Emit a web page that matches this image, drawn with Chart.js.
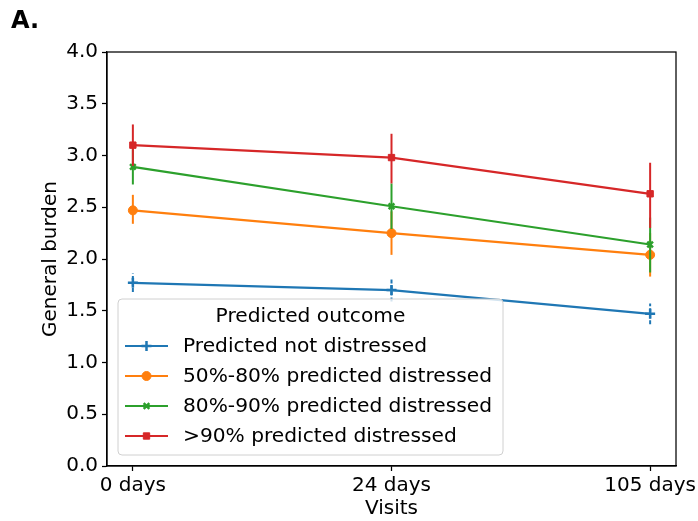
<!DOCTYPE html>
<html>
<head>
<meta charset="utf-8">
<script src="https://cdn.jsdelivr.net/npm/chart.js@4/dist/chart.umd.min.js"></script>
<style>
  body { margin: 0; background: #fff; }
  #wrap { width: 698px; height: 521px; }
</style>
</head>
<body>
<div id="wrap"><canvas id="myChart" width="698" height="521"></canvas></div>
<script>
// data
const visits = ['0 days', '24 days', '105 days'];
const visitPos = [0, 1, 2];
const groups = ['Predicted not distressed', '50%-80% predicted distressed', '80%-90% predicted distressed', '>90% predicted distressed'];

const notDistressed = [1.77, 1.70, 1.47];
const notDistressedLo = [1.68, 1.59, 1.37];
const notDistressedHi = [1.86, 1.82, 1.57];

const pct50to80 = [2.47, 2.25, 2.04];
const pct50to80Lo = [2.34, 2.04, 1.83];
const pct50to80Hi = [2.62, 2.46, 2.25];

const pct80to90 = [2.89, 2.51, 2.14];
const pct80to90Lo = [2.72, 2.29, 1.87];
const pct80to90Hi = [3.06, 2.73, 2.40];

const pctOver90 = [3.10, 2.98, 2.63];
const pctOver90Lo = [2.90, 2.73, 2.30];
const pctOver90Hi = [3.30, 3.21, 2.93];

const yTicks = [0, 0.5, 1, 1.5, 2, 2.5, 3, 3.5, 4];

const means = [notDistressed, pct50to80, pct80to90, pctOver90];
const lows = [notDistressedLo, pct50to80Lo, pct80to90Lo, pctOver90Lo];
const highs = [notDistressedHi, pct50to80Hi, pct80to90Hi, pctOver90Hi];

const colors = ['#1f77b4', '#ff7f0e', '#2ca02c', '#d62728'];
const markers = [
    { pointStyle: 'cross', radius: 5, borderWidth: 2.5 },
    { pointStyle: 'circle', radius: 4.5, borderWidth: 1 },
    { pointStyle: 'crossRot', radius: 4, borderWidth: 2.5 },
    { pointStyle: 'rect', radius: 4.5, borderWidth: 1 }
];
const errDash = [[4, 2], [], [], []];
const FONT = 'DejaVu Sans';

function drawMarker(ctx, i, x, y) {
    ctx.save();
    ctx.fillStyle = colors[i];
    ctx.strokeStyle = colors[i];
    ctx.lineWidth = markers[i].borderWidth;
    ctx.setLineDash([]);
    Chart.helpers.drawPoint(ctx, {
        pointStyle: markers[i].pointStyle,
        radius: markers[i].radius,
        rotation: 0,
        borderWidth: markers[i].borderWidth
    }, x, y);
    ctx.restore();
}

// error bars drawn right after each series so later series sit on top
const errorBars = {
    id: 'errorBars',
    afterDatasetDraw(chart, args) {
        const i = args.index;
        const ctx = chart.ctx;
        const xs = chart.scales.x, ys = chart.scales.y;
        ctx.save();
        ctx.strokeStyle = colors[i];
        ctx.lineWidth = 2;
        ctx.setLineDash(errDash[i]);
        visitPos.forEach((v, k) => {
            const px = xs.getPixelForValue(v);
            ctx.beginPath();
            ctx.moveTo(px, ys.getPixelForValue(lows[i][k]));
            ctx.lineTo(px, ys.getPixelForValue(highs[i][k]));
            ctx.stroke();
        });
        ctx.restore();
        visitPos.forEach((v, k) => {
            drawMarker(ctx, i, xs.getPixelForValue(v), ys.getPixelForValue(means[i][k]));
        });
    }
};

const frameAndLegend = {
    id: 'frameAndLegend',
    afterDraw(chart) {
        const ctx = chart.ctx;
        const a = chart.chartArea;
        ctx.save();
        ctx.strokeStyle = '#000';
        ctx.lineWidth = 1.25;
        ctx.strokeRect(a.left, a.top, a.right - a.left, a.bottom - a.top);

        // panel letter
        ctx.fillStyle = '#000';
        ctx.font = 'bold 24px "' + FONT + '"';
        ctx.textBaseline = 'alphabetic';
        ctx.textAlign = 'left';
        ctx.fillText('A.', 11, 28);

        // legend box
        const bx = 118, by = 299, bw = 385, bh = 156;
        ctx.beginPath();
        ctx.roundRect(bx, by, bw, bh, 4);
        ctx.fillStyle = 'rgba(255,255,255,0.8)';
        ctx.fill();
        ctx.strokeStyle = '#d0d0d0';
        ctx.lineWidth = 1;
        ctx.stroke();

        ctx.fillStyle = '#000';
        ctx.font = '20.2px "' + FONT + '"';
        ctx.textBaseline = 'middle';
        ctx.textAlign = 'center';
        ctx.fillText('Predicted outcome', bx + bw / 2, 317);
        ctx.textAlign = 'left';
        groups.forEach((g, i) => {
            const y = 346 + i * 30;
            ctx.strokeStyle = colors[i];
            ctx.lineWidth = 2;
            ctx.beginPath();
            ctx.moveTo(125, y);
            ctx.lineTo(168, y);
            ctx.stroke();
            drawMarker(ctx, i, 146.5, y);
            ctx.fillStyle = '#000';
            ctx.fillText(g, 183, y + 1);
        });
        ctx.restore();
    }
};

const ctx = document.getElementById('myChart').getContext('2d');
new Chart(ctx, {
    type: 'line',
    data: {
        datasets: groups.map((g, i) => ({
            label: g,
            data: visitPos.map((v, k) => ({ x: v, y: means[i][k] })),
            borderColor: colors[i],
            backgroundColor: colors[i],
            borderWidth: 2.2,
            pointRadius: 0,
            tension: 0,
            order: groups.length - i
        }))
    },
    options: {
        responsive: false,
        animation: false,
        layout: { padding: { left: 12, top: 52, right: 22, bottom: 0 } },
        plugins: {
            legend: { display: false },
            tooltip: { enabled: false }
        },
        scales: {
            x: {
                type: 'linear',
                min: -0.1,
                max: 2.1,
                afterBuildTicks: s => { s.ticks = visitPos.map(v => ({ value: v })); },
                afterFit: s => { s.height = 55; s.paddingLeft = 0; s.paddingRight = 0; },
                grid: { drawOnChartArea: false, tickLength: 5, color: '#000', tickWidth: 1.25 },
                border: { display: true, color: '#000', width: 1.25 },
                ticks: {
                    color: '#000',
                    padding: 3,
                    maxRotation: 0,
                    font: { family: FONT, size: 20 },
                    callback: v => visits[visitPos.indexOf(v)]
                },
                title: {
                    display: true,
                    text: 'Visits',
                    color: '#000',
                    font: { family: FONT, size: 20 },
                    padding: { top: 0, bottom: 0 }
                }
            },
            y: {
                min: 0,
                max: 4,
                afterBuildTicks: s => { s.ticks = yTicks.map(v => ({ value: v })); },
                afterFit: s => { s.width = 95; s.paddingTop = 0; s.paddingBottom = 0; },
                grid: { drawOnChartArea: false, tickLength: 5, color: '#000', tickWidth: 1.25 },
                border: { display: true, color: '#000', width: 1.25 },
                ticks: {
                    color: '#000',
                    padding: 4,
                    font: { family: FONT, size: 20 },
                    callback: v => v.toFixed(1)
                },
                title: {
                    display: true,
                    text: 'General burden',
                    color: '#000',
                    font: { family: FONT, size: 20 },
                    padding: { top: 27, bottom: 0 }
                }
            }
        }
    },
    plugins: [errorBars, frameAndLegend]
});
</script>
</body>
</html>
